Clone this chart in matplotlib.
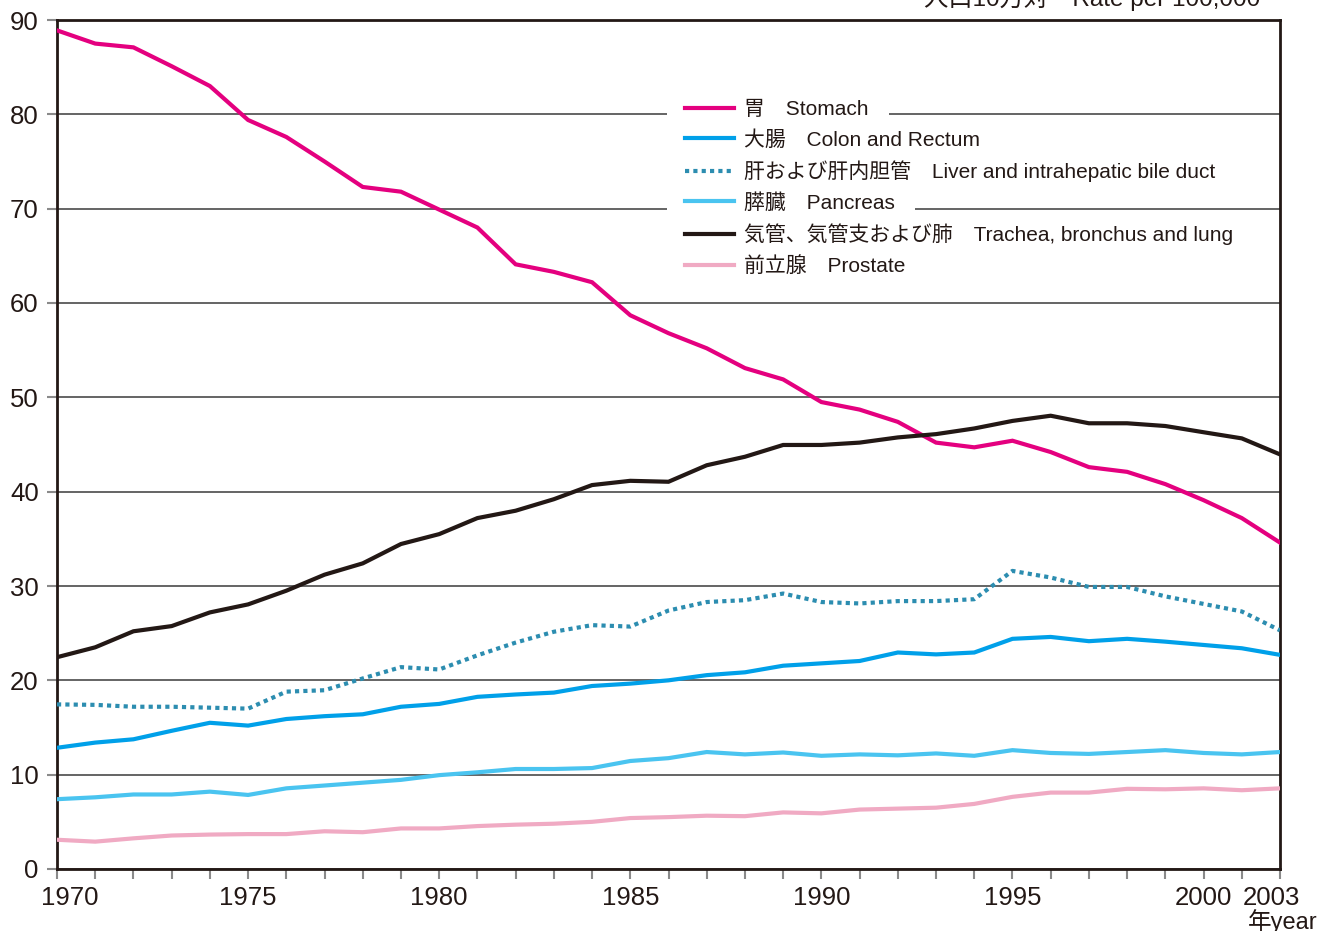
import matplotlib
matplotlib.use("Agg")
import matplotlib.pyplot as plt
from matplotlib.patches import Rectangle
from matplotlib.transforms import ScaledTranslation, IdentityTransform

# data (rate per 100,000), 33 points per series
year_labels = ["1970", "1975", "1980", "1985", "1990", "1995", "2000", "2003"]
label_pos = [0, 5, 10, 15, 20, 25, 30, 32]
n_points = 33

stomach = [88.9, 87.5, 87.1, 85.1, 83.0, 79.4, 77.6, 75.0, 72.3, 71.8,
           69.9, 68.0, 64.1, 63.3, 62.2, 58.7, 56.8, 55.2, 53.1, 51.9,
           49.5, 48.7, 47.4, 45.2, 44.7, 45.4, 44.2, 42.6, 42.1, 40.8,
           39.1, 37.2, 34.6]
colon = [12.85, 13.4, 13.75, 14.65, 15.5, 15.2, 15.9, 16.2, 16.4, 17.2,
         17.5, 18.25, 18.5, 18.7, 19.4, 19.65, 20.0, 20.55, 20.85, 21.55,
         21.8, 22.05, 22.95, 22.75, 22.95, 24.4, 24.6, 24.15, 24.4, 24.1,
         23.75, 23.4, 22.7]
liver = [17.45, 17.4, 17.2, 17.2, 17.1, 17.0, 18.8, 18.95, 20.2, 21.4,
         21.15, 22.65, 24.0, 25.15, 25.85, 25.7, 27.4, 28.3, 28.5, 29.2,
         28.3, 28.15, 28.4, 28.4, 28.6, 31.6, 30.9, 29.9, 29.9, 28.9,
         28.1, 27.3, 25.3]
pancreas = [7.4, 7.6, 7.9, 7.9, 8.2, 7.85, 8.55, 8.85, 9.15, 9.45,
            9.95, 10.25, 10.6, 10.6, 10.7, 11.45, 11.75, 12.4, 12.15, 12.35,
            12.0, 12.15, 12.05, 12.25, 12.0, 12.6, 12.3, 12.2, 12.4, 12.6,
            12.3, 12.15, 12.4]
lung = [22.45, 23.5, 25.2, 25.75, 27.2, 28.05, 29.5, 31.2, 32.4, 34.45,
        35.5, 37.2, 37.98, 39.2, 40.7, 41.15, 41.05, 42.8, 43.7, 44.95,
        44.95, 45.2, 45.75, 46.1, 46.7, 47.5, 48.05, 47.25, 47.25, 46.96,
        46.3, 45.65, 43.95]
prostate = [3.1, 2.9, 3.25, 3.55, 3.65, 3.7, 3.7, 4.0, 3.9, 4.3,
            4.3, 4.55, 4.7, 4.8, 5.0, 5.4, 5.5, 5.65, 5.6, 6.0,
            5.9, 6.3, 6.4, 6.5, 6.9, 7.65, 8.1, 8.1, 8.5, 8.45,
            8.55, 8.35, 8.55]

series = [
    ("胃　Stomach", stomach, "#E4007F", "-"),
    ("大腸　Colon and Rectum", colon, "#00A0E9", "-"),
    ("肝および肝内胆管　Liver and intrahepatic bile duct", liver, "#2C8DB0", (0, (1, 1))),
    ("膵臓　Pancreas", pancreas, "#4AC4F0", "-"),
    ("気管、気管支および肺　Trachea, bronchus and lung", lung, "#231815", "-"),
    ("前立腺　Prostate", prostate, "#F0AAC3", "-"),
]

text_font = ["Liberation Sans", "Noto Sans CJK JP"]
num_font = ["Liberation Sans Narrow", "Liberation Sans"]

fig = plt.figure(figsize=(13.19, 9.31), dpi=100)
ax = fig.add_axes([57 / 1319, 62 / 931, 1223 / 1319, 849 / 931])

x = list(range(n_points))
for label, vals, color, ls in series:
    ax.plot(x, vals, color=color, lw=3, ls=ls, label=label,
            solid_joinstyle="miter", zorder=3)

ax.set_xlim(0, n_points - 1)
ax.set_ylim(0, 90)

# horizontal grid
ax.set_axisbelow(True)
ax.yaxis.grid(True, color="#4a4a4a", lw=1.2)
ax.xaxis.grid(False)

for s in ax.spines.values():
    s.set_color("#231815")
    s.set_linewidth(2)

ax.set_yticks(range(0, 91, 10))
ax.set_xticks(label_pos)
ax.set_xticklabels(year_labels)
ax.set_xticks(x, minor=True)
ax.tick_params(axis="both", which="both", direction="out", length=7.2,
               width=1.5, color="#8a8a8a")
ax.tick_params(axis="y", pad=6)
ax.tick_params(axis="x", pad=5)
for t in ax.get_xticklabels() + ax.get_yticklabels():
    t.set_fontfamily(num_font)
    t.set_fontsize(18.5)
    t.set_color("#231815")

xl = ax.get_xticklabels()
xl[0].set_transform(xl[0].get_transform() + ScaledTranslation(0.13, 0, fig.dpi_scale_trans))
xl[-1].set_transform(xl[-1].get_transform() + ScaledTranslation(-0.09, 0, fig.dpi_scale_trans))

leg = ax.legend(loc="upper left", bbox_to_anchor=(628 / 1223, 1 - 80 / 849),
                frameon=False, prop={"family": text_font, "size": 15},
                handlelength=2.35, handletextpad=0.5, labelspacing=0.52,
                borderpad=0, borderaxespad=0)
for t in leg.get_texts():
    t.set_color("#231815")

fig.text(1260 / 1319, 1 - 6 / 931, "人口10万対　Rate per 100,000", ha="right",
         va="baseline", fontsize=17.5, family=text_font, color="#231815")
fig.text(1248 / 1319, 1 - 909 / 931, "年year", ha="left", va="top",
         fontsize=17, family=text_font, color="#231815")

# white boxes behind each legend row so the grid breaks there
fig.canvas.draw()
for t, h in zip(leg.get_texts(), leg.legend_handles):
    tb = t.get_window_extent()
    hb = h.get_window_extent()
    x0 = hb.x0 - 18
    x1 = tb.x1 + 20
    ax.add_patch(Rectangle((x0, tb.y0 - 1), x1 - x0, tb.height + 2,
                           transform=IdentityTransform(), facecolor="white",
                           edgecolor="none", zorder=1))

fig.savefig("out.png", dpi=100)
